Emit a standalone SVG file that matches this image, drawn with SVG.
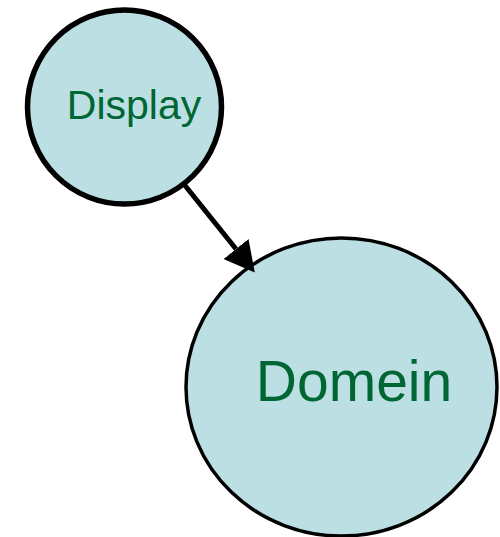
<svg xmlns="http://www.w3.org/2000/svg" width="500" height="537" viewBox="0 0 500 537">
  <style>
    .node { fill: #bbdfe3; stroke: #000; }
    .label { font-family: "Liberation Sans", Arial, sans-serif; fill: #006633; text-anchor: middle; }
    .edge { stroke: #000; stroke-width: 5; fill: none; }
  </style>
  <defs>
    <marker id="arrow" markerUnits="userSpaceOnUse" viewBox="0 0 30 32" refX="0" refY="16" markerWidth="30" markerHeight="32" orient="auto">
      <path d="M0,0 L30,16 L0,32 z" fill="#000"/>
    </marker>
  </defs>
  <g id="node-display">
    <circle class="node" cx="124.5" cy="107" r="97" stroke-width="5.5"/>
    <text class="label" x="134" y="119" font-size="41">Display</text>
  </g>
  <g id="node-domein">
    <ellipse class="node" cx="341.5" cy="387" rx="155.5" ry="149" stroke-width="3.5"/>
    <text class="label" x="354" y="401" font-size="57">Domein</text>
  </g>
  <g id="connectors">
    <line class="edge" x1="183" y1="183" x2="236" y2="249" marker-end="url(#arrow)"/>
  </g>
</svg>
